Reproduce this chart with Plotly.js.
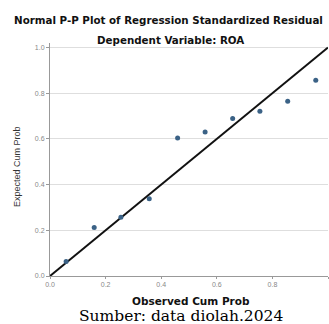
<!DOCTYPE html>
<html>
<head>
<meta charset="utf-8">
<script src="https://cdn.plot.ly/plotly-3.0.1.min.js"></script>
<style>html,body{margin:0;padding:0;background:#fff;}#chart{width:329px;height:324px;}</style>
</head>
<body>
<div id="chart"></div>
<script>
// Observed vs expected cumulative probabilities
const observedCumProb = [0.058, 0.159, 0.255, 0.357, 0.459, 0.558, 0.657, 0.755, 0.855, 0.956];
const expectedCumProb = [0.063, 0.212, 0.257, 0.338, 0.604, 0.630, 0.689, 0.721, 0.765, 0.857];
// Reference diagonal
const diagX = [0, 1];
const diagY = [0, 1];
const tickVals = [0, 0.2, 0.4, 0.6, 0.8, 1.0];
const tickText = ["0.0", "0.2", "0.4", "0.6", "0.8", "1.0"];

const traces = [
  {x: diagX, y: diagY, type: 'scatter', mode: 'lines', line: {color: '#111', width: 2}, hoverinfo: 'skip', cliponaxis: false},
  {x: observedCumProb, y: expectedCumProb, type: 'scatter', mode: 'markers',
   marker: {color: '#3b6286', size: 5, symbol: 'circle'}}
];

const layout = {
  width: 329, height: 324,
  margin: {l: 50, r: 1, t: 43, b: 48, pad: 0},
  paper_bgcolor: '#fff', plot_bgcolor: '#fff',
  showlegend: false,
  title: {text: 'Normal P-P Plot of Regression Standardized Residual',
          x: 0.512, xref: 'container', xanchor: 'center',
          y: 0.937, yref: 'container', yanchor: 'middle',
          font: {family: 'DejaVu Sans', size: 10.3, weight: 'bold', color: '#111'}},
  xaxis: {range: [0, 1], tickvals: tickVals, ticktext: tickText, showgrid: false, zeroline: false,
          showline: true, linecolor: '#999', linewidth: 1, ticks: 'outside', ticklen: 2, tickcolor: '#999',
          tickfont: {family: 'Liberation Sans', size: 7, color: '#888'}, fixedrange: true},
  yaxis: {range: [0, 1.02], tickvals: tickVals, ticktext: tickText, showgrid: true, gridcolor: '#dedede',
          zeroline: false, showline: true, linecolor: '#999', linewidth: 1, ticks: 'outside', ticklen: 3,
          tickcolor: '#999', tickfont: {family: 'Liberation Sans', size: 7, color: '#888'}, fixedrange: true},
  annotations: [
    {text: 'Dependent Variable: ROA', xref: 'paper', yref: 'paper', x: 0.432, y: 1.015,
     xanchor: 'center', yanchor: 'middle', showarrow: false,
     font: {family: 'DejaVu Sans', size: 10.3, weight: 'bold', color: '#111'}},
    {text: 'Observed Cum Prob', xref: 'paper', yref: 'paper', x: 0.507, y: -0.107,
     xanchor: 'center', yanchor: 'middle', showarrow: false,
     font: {family: 'DejaVu Sans', size: 10.5, weight: 'bold', color: '#111'}},
    {text: 'Expected Cum Prob', xref: 'paper', yref: 'paper', x: -0.119, y: 0.472, textangle: -90,
     xanchor: 'center', yanchor: 'middle', showarrow: false,
     font: {family: 'Liberation Sans Narrow, Liberation Sans', size: 9, color: '#333'}},
    {text: 'Sumber: data diolah.2024', xref: 'paper', yref: 'paper', x: 0.471, y: -0.170,
     xanchor: 'center', yanchor: 'middle', showarrow: false,
     font: {family: 'DejaVu Serif', size: 15.5, color: '#000'}}
  ]
};

Plotly.newPlot('chart', traces, layout, {displayModeBar: false, staticPlot: true});
</script>
</body>
</html>
